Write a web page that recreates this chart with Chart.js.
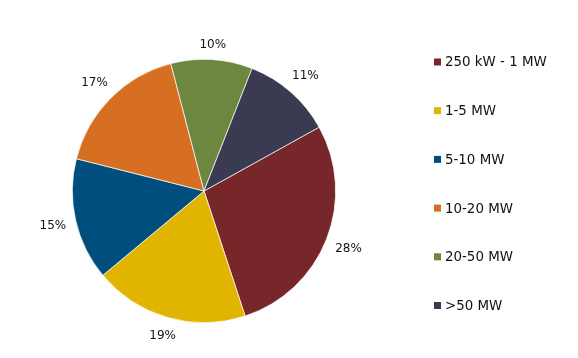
<!DOCTYPE html>
<html>
<head>
<meta charset="utf-8">
<script src="https://cdn.jsdelivr.net/npm/chart.js@4"></script>
<style>
html,body{margin:0;padding:0;background:#fff;}
#wrap{width:578px;height:358px;position:relative;}
</style>
</head>
<body>
<div id="wrap"><canvas id="c" width="578" height="358"></canvas></div>
<script>
const categories = ["250 kW - 1 MW", "1-5 MW", "5-10 MW", "10-20 MW", "20-50 MW", ">50 MW"];
const shares = [28, 19, 15, 17, 10, 11];
const colors = ["#772629", "#E1B400", "#004E7D", "#D66F22", "#6E873E", "#3A3A53"];

const FONT = '"DejaVu Sans", Verdana, sans-serif';

const labelPlugin = {
  id: 'outsideLabels',
  afterDatasetsDraw(chart) {
    const ctx = chart.ctx;
    const meta = chart.getDatasetMeta(0);
    ctx.save();
    ctx.font = '12px ' + FONT;
    ctx.fillStyle = '#111';
    ctx.textAlign = 'center';
    ctx.textBaseline = 'middle';
    meta.data.forEach((arc, i) => {
      const mid = (arc.startAngle + arc.endAngle) / 2;
      const txt = shares[i] + '%';
      const hw = ctx.measureText(txt).width / 2;
      const hh = 6;
      const c = Math.cos(mid), s = Math.sin(mid);
      const d = arc.outerRadius + 9 + Math.abs(c) * hw + Math.abs(s) * hh;
      ctx.fillText(txt, arc.x + c * d, arc.y + s * d + 1);
    });
    ctx.restore();
  }
};

const legendPlugin = {
  id: 'sideLegend',
  afterDraw(chart) {
    const ctx = chart.ctx;
    const ds = chart.data.datasets[0];
    ctx.save();
    ctx.font = '13.4px ' + FONT;
    ctx.textBaseline = 'middle';
    ctx.textAlign = 'left';
    const x0 = 434, y0 = 62, step = 48.7;
    chart.data.labels.forEach((lab, i) => {
      const y = y0 + i * step;
      ctx.fillStyle = ds.backgroundColor[i];
      ctx.fillRect(x0, y - 3.5, 7, 7);
      ctx.fillStyle = '#111';
      ctx.fillText(lab, x0 + 11, y + 1);
    });
    ctx.restore();
  }
};

function draw() {
  new Chart(document.getElementById('c'), {
    type: 'pie',
    data: {
      labels: categories,
      datasets: [{
        data: shares,
        backgroundColor: colors,
        borderColor: '#ffffff',
        borderWidth: 0.7
      }]
    },
    options: {
      responsive: false,
      animation: false,
      rotation: 61,
      layout: { padding: { top: 59, bottom: 35, left: 0, right: 170 } },
      plugins: {
        legend: { display: false },
        tooltip: { enabled: false }
      }
    },
    plugins: [labelPlugin, legendPlugin]
  });
}

Promise.all([
  document.fonts.load('12px "DejaVu Sans"'),
  document.fonts.load('13px "DejaVu Sans"')
]).then(draw, draw);
</script>
</body>
</html>
